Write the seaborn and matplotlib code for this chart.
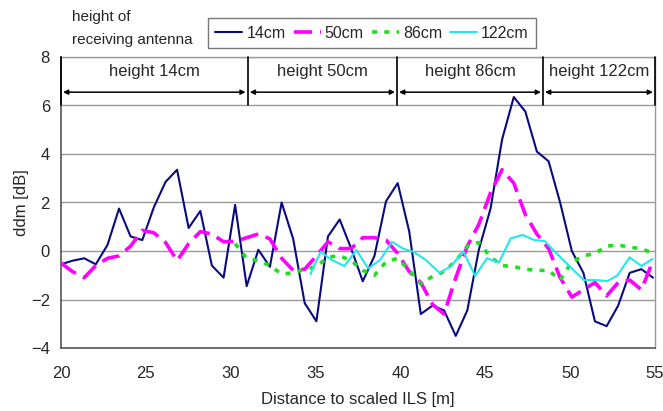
import numpy as np
import pandas as pd
import matplotlib
matplotlib.use("Agg")
import matplotlib.pyplot as plt
import seaborn as sns
from matplotlib.lines import Line2D

# ---------------- data ----------------
dist = [20.0, 20.68, 21.37, 22.05, 22.74, 23.42, 24.1, 24.79, 25.47, 26.16,
        26.84, 27.52, 28.21, 28.89, 29.58, 30.26, 30.94, 31.63, 32.31, 33.0,
        33.68, 34.36, 35.05, 35.73, 36.42, 37.1, 37.78, 38.47, 39.15, 39.84,
        40.52, 41.2, 41.89, 42.57, 43.26, 43.94, 44.62, 45.31, 45.99, 46.68,
        47.36, 48.04, 48.73, 49.41, 50.1, 50.78, 51.46, 52.15, 52.83, 53.51,
        54.2, 54.88]

ddm_14 = [-0.55, -0.4, -0.3, -0.55, 0.25, 1.75, 0.6, 0.45, 1.8, 2.85,
          3.35, 0.95, 1.65, -0.6, -1.1, 1.9, -1.45, 0.05, -0.65, 2.0,
          0.5, -2.15, -2.9, 0.6, 1.3, 0.1, -1.25, -0.2, 2.05, 2.8,
          0.8, -2.6, -2.25, -2.45, -3.5, -2.45, 0.05, 1.75, 4.6, 6.35,
          5.75, 4.1, 3.7, 2.0, 0.0, -0.9, -2.9, -3.1, -2.25, -0.9,
          -0.75, -1.1]

ddm_50 = [-0.5, -0.85, -1.1, -0.6, -0.3, -0.2, 0.2, 0.85, 0.75, 0.35,
          -0.4, 0.3, 0.8, 0.7, 0.38, 0.4, 0.55, 0.7, 0.5, -0.3,
          -0.8, -0.75, -0.2, 0.38, 0.1, 0.1, 0.55, 0.55, 0.45, -0.1,
          -0.85, -1.3, -2.2, -2.6, -1.1, 0.2, 1.1, 2.4, 3.35, 2.8,
          1.5, 0.7, 0.1, -1.1, -1.9, -1.6, -1.3, -1.85, -1.3, -1.2,
          -1.6, -0.4]

dist_86 = dist[15:]
ddm_86 = [0.3, -0.3, -0.4, -0.6, -0.95, -0.9, -0.75, -0.65, -0.25, -0.2,
          -0.4, -0.8, -1.0, -0.45, -0.3, -0.8, -1.35, -1.05, -0.85, -0.4,
          0.2, 0.35, -0.25, -0.6, -0.65, -0.75, -0.8, -0.8, -1.2, -0.45,
          -0.2, -0.1, 0.2, 0.25, 0.15, 0.1, -0.1]

dist_122 = [34.7, 35.3, 35.95, 36.7, 37.4, 38.1, 38.8, 39.5, 40.15, 40.75,
            41.5, 42.3, 43.0, 43.7, 44.4, 45.1, 45.8, 46.5, 47.2, 47.9,
            48.5, 49.2, 50.0, 50.8, 51.5, 52.2, 52.8, 53.5, 54.2, 54.85]
ddm_122 = [-0.95, -0.03, -0.37, -0.62, 0.04, -0.72, -0.37, 0.38, 0.1, -0.03,
           -0.37, -0.9, -0.62, 0.0, -1.03, -0.3, -0.48, 0.52, 0.66, 0.45,
           0.41, -0.1, -0.65, -1.2, -1.2, -1.24, -1.0, -0.26, -0.62, -0.33]

series_names = ["14cm", "50cm", "86cm", "122cm"]
section_bounds = [20.0, 31.0, 39.8, 48.4, 55.0]
section_labels = ["height 14cm", "height 50cm", "height 86cm", "height 122cm"]
y_ticks = [-4, -2, 0, 2, 4, 6, 8]
x_ticks = [20, 25, 30, 35, 40, 45, 50, 55]

frames = [
    pd.DataFrame({"x": dist, "y": ddm_14, "series": "14cm"}),
    pd.DataFrame({"x": dist, "y": ddm_50, "series": "50cm"}),
    pd.DataFrame({"x": dist_86, "y": ddm_86, "series": "86cm"}),
    pd.DataFrame({"x": dist_122, "y": ddm_122, "series": "122cm"}),
]
df = pd.concat(frames, ignore_index=True)

# ---------------- style ----------------
sns.set_style("white")
plt.rcParams["font.family"] = ["Liberation Sans", "DejaVu Sans"]

colors = {"14cm": "#0a0a80", "50cm": "#ff00ff", "86cm": "#22dd22", "122cm": "#22e8e8"}
widths = {"14cm": 1.5, "50cm": 2.6, "86cm": 2.6, "122cm": 1.5}
dashes = {"14cm": "", "50cm": (5.0, 2.2), "86cm": (1.4, 2.0), "122cm": ""}

fig = plt.figure(figsize=(6.63, 4.11), dpi=100)
ax = fig.add_axes([61 / 663, 1 - 348 / 411, (655 - 61) / 663, (348 - 57) / 411])

for name in series_names:
    sub = df[df["series"] == name]
    sns.lineplot(data=sub, x="x", y="y", ax=ax, color=colors[name],
                 linewidth=widths[name], estimator=None, sort=False,
                 legend=False)
    ln = ax.lines[-1]
    if dashes[name]:
        ln.set_dashes(dashes[name])
    ln.set_zorder(3)

ax.set_xlim(20, 55)
ax.set_ylim(-4, 8)
ax.set_xticks(x_ticks)
ax.set_yticks(y_ticks)
ax.tick_params(axis="both", labelsize=12, length=5, width=1, direction="out",
               color="#555555", pad=3)
ax.tick_params(axis="x", pad=8)
ax.grid(axis="y", color="#9a9a9a", linewidth=1)
ax.grid(axis="x", visible=False)
ax.set_axisbelow(True)
for side in ["left", "bottom"]:
    ax.spines[side].set_color("#555555")
    ax.spines[side].set_linewidth(1.2)
for side in ["right", "top"]:
    ax.spines[side].set_color("#9a9a9a")
    ax.spines[side].set_linewidth(1)

ax.set_xlabel("Distance to scaled ILS [m]", fontsize=12, labelpad=8)
ax.set_ylabel("ddm [dB]", fontsize=12, labelpad=1)

# section dividers, arrows and labels
for b in section_bounds:
    ax.plot([b, b], [6.0, 8.0], color="black", linewidth=1.2, zorder=4,
            clip_on=False)
for i, lab in enumerate(section_labels):
    a, b = section_bounds[i], section_bounds[i + 1]
    ax.annotate("", xy=(b, 6.55), xytext=(a, 6.55),
                arrowprops=dict(arrowstyle="<|-|>", color="black", lw=1.1,
                                mutation_scale=7, shrinkA=1.5, shrinkB=1.5),
                zorder=4)
    ax.text((a + b) / 2, 7.4, lab, ha="center", va="center", fontsize=12)

# legend
handles = []
for name in series_names:
    h = Line2D([], [], color=colors[name], linewidth=widths[name])
    if dashes[name]:
        h.set_dashes(dashes[name])
    handles.append(h)
leg = fig.legend(handles, series_names, loc="center", ncol=4,
                 bbox_to_anchor=(372 / 663, 1 - 33 / 411), fontsize=11.5,
                 frameon=True, fancybox=False, handlelength=1.7,
                 handletextpad=0.25, columnspacing=0.5, borderpad=0.45,
                 borderaxespad=0)
leg.get_frame().set_edgecolor("#555555")
leg.get_frame().set_linewidth(1)

fig.text(72 / 663, 1 - 17 / 411, "height of", fontsize=11, ha="left", va="center")
fig.text(72 / 663, 1 - 40 / 411, "receiving antenna", fontsize=11, ha="left", va="center")

fig.savefig("out.png", dpi=100)
